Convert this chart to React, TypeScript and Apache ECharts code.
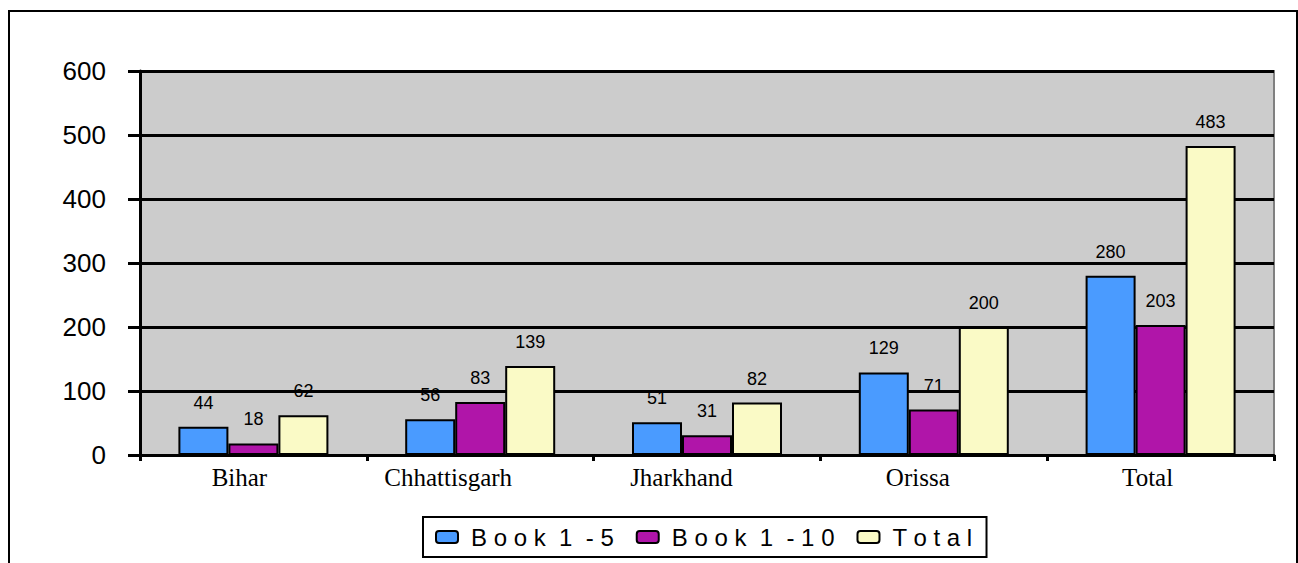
import React, { useEffect, useRef } from "react";
import * as echarts from "echarts";

const categories = ["Bihar", "Chhattisgarh", "Jharkhand", "Orissa", "Total"];
const seriesNames = ["Book 1 -5", "Book 1 -10", "Total"];
const book15 = [44, 56, 51, 129, 280];
const book110 = [18, 83, 31, 71, 203];
const totals = [62, 139, 82, 200, 483];
const yTicks = [0, 100, 200, 300, 400, 500, 600];

const colors = ["#4A9BFF", "#B015A9", "#FAFAC6"];

const CAT_FONT = "Liberation Serif, Times New Roman, serif";
const CAT_SIZE = 25;

export default function App() {
  const ref = useRef<HTMLDivElement>(null);
  useEffect(() => {
    if (!ref.current) return;
    const chart = echarts.init(ref.current, null, { renderer: "svg" });
    const values = [book15, book110, totals];
    const spaced = (s: string) => s.split("").join(" ").replace(/   /g, "  ");

    // Excel-like off-centre label placement: shift left by a quarter of text width
    const canvas = document.createElement("canvas");
    const ctx = canvas.getContext("2d");
    const rich: Record<string, any> = {};
    categories.forEach((c, i) => {
      let w = c.length * 12;
      if (ctx) {
        ctx.font = `${CAT_SIZE}px ${CAT_FONT}`;
        w = ctx.measureText(c).width;
      }
      rich["c" + i] = {
        fontFamily: CAT_FONT,
        fontSize: CAT_SIZE,
        color: "#000",
        padding: [0, Math.round(w * 0.5), 0, 0],
      };
    });

    chart.setOption({
      animation: false,
      backgroundColor: "#ffffff",
      graphic: [
        {
          type: "rect",
          shape: { x: 9, y: 11, width: 1288, height: 600 },
          style: { fill: "none", stroke: "#000", lineWidth: 2 },
          silent: true,
          z: 0,
        },
      ],
      grid: {
        left: 140,
        right: 24,
        top: 71,
        bottom: 108,
        show: true,
        backgroundColor: "#CCCCCC",
        borderColor: "#808080",
        borderWidth: 2,
      },
      legend: {
        left: 423,
        top: 517,
        orient: "horizontal",
        data: seriesNames,
        itemWidth: 22,
        itemHeight: 12,
        itemGap: 22,
        padding: [8, 14, 8, 12],
        borderColor: "#000",
        borderWidth: 2,
        backgroundColor: "#fff",
        formatter: (name: string) => spaced(name),
        textStyle: {
          fontFamily: "Liberation Sans, Arial, sans-serif",
          fontSize: 24,
          color: "#000",
          padding: [0, 0, 0, 8],
        },
        itemStyle: { borderColor: "#000", borderWidth: 2 },
      },
      xAxis: {
        type: "category",
        data: categories,
        axisLine: { show: true, lineStyle: { color: "#000", width: 3 } },
        axisTick: { show: true, interval: 0, length: 6, lineStyle: { color: "#000", width: 3 } },
        axisLabel: {
          interval: 0,
          hideOverlap: false,
          fontFamily: CAT_FONT,
          fontSize: CAT_SIZE,
          color: "#000",
          margin: 10,
          formatter: (v: string) => `{c${categories.indexOf(v)}|${v}}`,
          rich,
        },
        z: 5,
      },
      yAxis: {
        type: "value",
        min: yTicks[0],
        max: yTicks[yTicks.length - 1],
        interval: 100,
        axisLine: { show: true, lineStyle: { color: "#000", width: 3 } },
        axisTick: { show: true, length: 12, lineStyle: { color: "#000", width: 3 } },
        splitLine: { show: true, lineStyle: { color: "#000", width: 3 } },
        axisLabel: {
          fontFamily: "Liberation Sans, Arial, sans-serif",
          fontSize: 26,
          color: "#000",
          margin: 34,
        },
      },
      series: seriesNames.map((name, i) => ({
        name,
        type: "bar",
        data: values[i],
        barWidth: 50,
        barGap: "0%",
        itemStyle: { color: colors[i], borderColor: "#000", borderWidth: 2 },
        label: {
          show: true,
          position: "top",
          distance: 15,
          fontFamily: "Liberation Sans, Arial, sans-serif",
          fontSize: 18,
          color: "#000",
        },
      })),
    });
    return () => chart.dispose();
  }, []);
  return (
    <div
      ref={ref}
      style={{ position: "fixed", left: 0, top: 0, width: 1298, height: 563 }}
    />
  );
}
